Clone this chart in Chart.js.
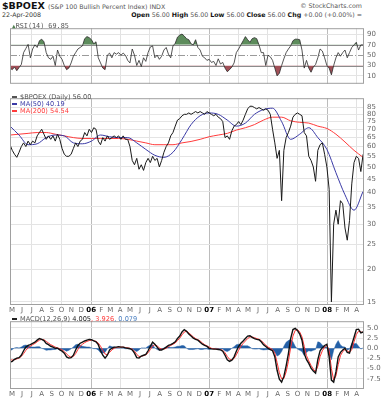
<!DOCTYPE html>
<html><head><meta charset="utf-8">
<script src="https://cdn.jsdelivr.net/npm/chart.js@4/dist/chart.umd.min.js"></script>
<style>
body{margin:0;width:388px;height:400px;background:#fff;position:relative;overflow:hidden;font-family:"DejaVu Sans",sans-serif}
.a{position:absolute;white-space:nowrap;line-height:1}
canvas{position:absolute;left:0}
.d{display:inline-block;width:5px;height:1.5px;vertical-align:middle;margin-right:3px}
</style></head><body>
<div class="a" style="left:2px;top:1px;font-size:9.5px;font-weight:bold;color:#111">$BPOEX <span style="font-weight:normal;font-size:6.3px;color:#555">(S&amp;P 100 Bullish Percent Index) INDX</span></div>
<div class="a" style="right:26px;top:3px;font-size:6.3px;color:#555">© StockCharts.com</div>
<div class="a" style="left:2px;top:12px;font-size:6.3px;color:#333">22-Apr-2008</div>
<div class="a" style="right:26px;top:12px;font-size:6.3px;color:#555"><b style="color:#111">Open</b> 56.00 <b style="color:#111">High</b> 56.00 <b style="color:#111">Low</b> 56.00 <b style="color:#111">Close</b> 56.00 <b style="color:#111">Chg</b> +0.00 (+0.00%) =</div>

<canvas id="cRsi" width="388" height="70" style="top:21px"></canvas>
<canvas id="cPrice" width="388" height="223" style="top:91px"></canvas>
<canvas id="cMacd" width="388" height="86" style="top:314px"></canvas>

<div class="a" style="left:12px;top:23px;font-size:6.8px;color:#555;font-family:'DejaVu Sans Mono',monospace"><span style="color:#4f7f4f;font-size:6px">&#9650;</span>RSI(14) 69.85</div>
<div class="a" style="left:12px;top:94px;font-size:6.6px;color:#555"><span class="d" style="background:#555"></span>$BPOEX (Daily) 56.00</div>
<div class="a" style="left:12px;top:101px;font-size:6.6px;color:#3a3aa6"><span class="d" style="background:#3a3aa6"></span>MA(50) 40.19</div>
<div class="a" style="left:12px;top:108px;font-size:6.6px;color:#ff3b3b"><span class="d" style="background:#ff3b3b"></span>MA(200) 54.54</div>
<div class="a" style="left:12px;top:316px;font-size:6.6px;color:#555"><span class="d" style="background:#222"></span>MACD(12,26,9) <span style="color:#222">4.005</span><span style="color:#ff3b3b">, 3.926</span><span style="color:#4a7fc0">, 0.079</span></div>

<script>
// ---- data (weekly samples starting 25-Apr-2005) ----
const startDate = [2005, 3, 25];
const monthLabels = ['M','J','J','A','S','O','N','D','06','F','M','A','M','J','J','A','S','O','N','D','07','F','M','A','M','J','J','A','S','O','N','D','08','F','M','A'];
const priceTicks = [15,20,25,30,35,40,45,50,55,60,65,70,75,80,85];
const rsiTicks = [10,30,50,70,90];
const rsiBands = [30,70];
const rsiMid = [50];
const macdTicks = [-7.5,-5,-2.5,0,2.5,5];

const bpoex = [61,58,56,54.5,57,60,62,60,63,61,
63,62,66,68,70,67,64,66,64,66,
63,67,64,59,56,55,55,56,59,62,
60,63,64,68,66,70,68,71,70,63,
61,65,63,66,64,65,66,65,66,64,
66,64,64,60,53,51,54,49,51,48.5,
52,54,52,55,53,54,50,53,57,60,
62,66,68,72,76,77,79,80,80,81,
80,81,82,81,82,81,80,82,81,80,
79,80,78,77,75,65,66,64,69,72,
73,75,73,76,80,84,86,86,85,84,
85,84,83,84,83,80,70,62,54,58,
37,58,65,68,72,78,80,81,80,79,
68,66,55,53,50,44,58,61,62,56,
50,41,15,30,34,30,37,36,29,26,
31,43,52,55,54,48,56];

const maWeeks = [0,4,8,12,16,20,24,28,32,36,40,44,48,52,56,60,64,68,72,76,80,84,88,92,96,100,104,108,112,116,120,124,128,132,136,140,144,148,152,156];
const ma50 = [72,66.5,61,61.5,65,66.5,66,62,61.5,63,
66.5,65.5,65,65,62,58.5,55.5,54.5,57,64,
73,79,81,80,76,72,74,80,83.5,84.5,
75,64,67,71,65,58.5,47.5,39,34,40.2];
const ma200 = [66.5,67,67.5,68,68,67,66,65,64.5,64.5,
64.5,64.5,64.5,64,63,62,61,61,61,62,
62.8,64,65.5,66.5,67.5,69.5,71,73,76,78,
78,75.5,74.5,74,72,70.5,67,62.5,58,54.5];

const rsi = [25,22,27,20,26,32,55,63,71,45,
62,70,65,78,81,76,55,45,42,48,
30,60,48,42,30,22,25,35,48,55,
62,65,68,82,86,84,80,72,76,45,
35,25,22,50,54,45,55,52,55,50,
54,50,40,35,62,50,30,40,28,45,
38,55,66,68,45,50,42,48,60,65,
52,45,68,73,85,89,91,87,82,80,
72,70,80,65,60,48,45,40,42,36,
38,30,43,33,36,25,18,22,27,35,
55,62,70,78,86,80,75,82,84,82,
70,55,55,30,50,47,40,25,10,15,
30,43,55,62,68,78,81,81,80,60,
25,40,25,17,27,32,45,62,58,45,
30,25,12,30,45,55,48,55,60,45,
55,65,70,75,60,70,70];

const macd = [-3.4,-3.2,-2.7,-2.4,-2.3,-1.7,-0.6,0.3,0.7,0.9,
1.2,1.5,2.0,2.4,2.2,1.9,1.2,0.9,0.5,0.3,
0,0,-0.4,-0.7,-1.2,-2.1,-2.4,-2.3,-1.7,-0.4,
0.7,1.25,1.5,1.8,2.0,2.2,2.1,1.8,1.6,0.9,
-0.6,-1.7,-2.4,-1.7,-0.4,0,0.3,0.3,0.4,0.3,
0.3,0.1,0,-0.1,-0.4,-1.2,-2.3,-2.4,-1.9,-1.7,
-1.5,-0.6,0.5,1.5,1.0,0.3,-0.4,-0.4,-0.1,0.3,
0.7,0.9,1.2,1.6,2.4,3.0,4.0,4.6,4.2,3.5,
3.0,2.5,2.2,2.0,1.5,1.0,0.7,0.45,0,-0.15,
-0.2,-0.2,-0.3,-0.4,-0.7,-1.7,-2.8,-3.2,-2.9,-2.1,
-0.7,0.5,1.25,1.8,2.4,3.0,3.1,2.7,2.4,2.2,
2.1,1.6,0.9,0.45,0,-0.3,-0.6,-2.1,-5.4,-7.6,
-8.3,-6.9,-4.3,-1.3,2.4,4.6,4.9,4.4,3.5,2.0,
-1.3,-2.8,-3.7,-4.9,-5.6,-6.1,-2.8,-0.6,0.15,0.7,
1.0,-2.1,-7.8,-8.3,-5.8,-2.1,-1.0,-0.4,0,-1.0,
-1.2,0.9,2.7,4.6,4.7,3.8,4.0];

const signal = [-2.8,-2.9,-2.8,-2.6,-2.4,-2.0,-1.3,-0.5,0.1,0.5,
0.9,1.2,1.6,2.0,2.2,2.1,1.7,1.3,0.9,0.6,
0.3,0.1,-0.1,-0.4,-0.8,-1.4,-1.9,-2.2,-2.0,-1.3,
-0.3,0.5,1.0,1.4,1.7,1.9,2.0,1.9,1.7,1.3,
0.5,-0.5,-1.4,-1.6,-1.0,-0.4,0.0,0.2,0.3,0.3,
0.3,0.2,0.1,0.0,-0.2,-0.7,-1.5,-2.0,-2.0,-1.8,
-1.6,-1.1,-0.3,0.6,0.9,0.6,0.1,-0.2,-0.2,0.0,
0.4,0.7,1.0,1.3,1.9,2.5,3.3,4.0,4.2,3.8,
3.3,2.8,2.4,2.1,1.8,1.3,0.9,0.6,0.3,0.0,
-0.1,-0.2,-0.2,-0.3,-0.5,-1.1,-2.0,-2.7,-2.9,-2.5,
-1.6,-0.5,0.5,1.2,1.8,2.4,2.8,2.8,2.6,2.4,
2.2,1.9,1.3,0.8,0.3,0.0,-0.3,-1.2,-3.5,-6.0,
-7.5,-7.4,-5.8,-3.2,0.2,3.0,4.4,4.6,4.0,2.8,
0.5,-1.8,-3.1,-4.2,-5.1,-5.8,-4.4,-2.0,-0.6,0.3,
0.8,-0.6,-5.0,-7.8,-6.8,-4.0,-1.8,-0.8,-0.3,-0.6,
-1.0,-0.3,1.6,3.4,4.2,4.0,3.9];

const hist = [-0.6,-0.3,0.1,0.2,0.1,0.3,0.7,0.8,0.6,0.4,
0.3,0.3,0.4,0.4,0.0,-0.2,-0.5,-0.4,-0.4,-0.3,
-0.3,-0.1,-0.3,-0.3,-0.4,-0.7,-0.5,-0.1,0.3,0.9,
1.0,0.75,0.5,0.4,0.3,0.3,0.1,-0.1,-0.1,-0.4,
-1.1,-1.2,-1.0,-0.1,0.6,0.4,0.3,0.1,0.1,0.0,
0.0,-0.1,-0.1,-0.1,-0.2,-0.5,-0.8,-0.4,0.1,0.1,
0.1,0.5,0.8,0.9,0.1,-0.3,-0.5,-0.2,0.1,0.3,
0.3,0.2,0.2,0.3,0.5,0.5,0.7,0.6,0.0,-0.3,
-0.3,-0.3,-0.2,-0.1,-0.3,-0.3,-0.2,-0.15,-0.3,-0.15,
-0.1,0.0,-0.1,-0.1,-0.2,-0.6,-0.8,-0.5,0.0,0.4,
0.9,1.0,0.75,0.6,0.6,0.6,0.3,-0.1,-0.2,-0.2,
-0.1,-0.3,-0.4,-0.35,-0.3,-0.3,-0.3,-0.9,-1.9,-1.6,
-0.8,0.5,1.5,1.9,2.2,1.6,0.5,-0.2,-0.5,-0.8,
-1.8,-1.0,-0.6,-0.7,-0.5,-0.3,1.6,1.4,0.75,0.4,
0.2,-1.5,-2.8,-0.5,1.0,1.9,0.8,0.4,0.3,-0.4,
-0.2,1.2,1.1,1.2,0.5,-0.2,0.1];

// ---- helpers ----
const WEEK = 7*86400000;
const t0 = Date.UTC(startDate[0], startDate[1], startDate[2]);
const monthPos = monthLabels.map((_, i) => (Date.UTC(2005, 4 + i, 1) - t0) / WEEK);
const monthNum = i => (4 + i) % 12;
const isYear = i => monthLabels[i] && monthLabels[i].length > 1;
const pts = arr => arr.map((v, i) => ({x: i, y: v}));
const ptsX = (xs, arr) => arr.map((v, i) => ({x: xs[i], y: v}));
const FONT = 'DejaVu Sans';

function xScale(show, h) {
  return {
    type: 'linear', min: 0, max: 156.4, offset: false,
    afterBuildTicks: s => { s.ticks = monthPos.map(v => ({value: v})); },
    afterFit: s => { s.height = h; },
    ticks: {
      display: show, autoSkip: false, maxRotation: 0, minRotation: 0, padding: 1,
      callback: (v, i) => monthLabels[i],
      color: c => isYear(c.index) ? '#000' : '#666',
      font: c => ({family: FONT, size: 7, weight: isYear(c.index) ? 'bold' : 'normal'})
    },
    grid: {
      drawTicks: false,
      color: c => { const m = monthNum(c.index); return m === 0 ? '#bcbcbc' : (m % 3 === 0 ? '#e2e2e2' : 'rgba(0,0,0,0)'); }
    },
    border: {display: false}
  };
}
function yScale(type, min, max, ticks, fmt, gridColor) {
  return {
    type, position: 'right', min, max,
    afterBuildTicks: s => { s.ticks = ticks.map(v => ({value: v})); },
    afterFit: s => { s.width = 24; },
    ticks: {autoSkip: false, padding: 3, color: '#666', font: {family: FONT, size: 7}, callback: fmt},
    grid: {drawTicks: false, color: gridColor || '#e4e4e4'},
    border: {display: false}
  };
}
const frame = {
  id: 'frame',
  afterDraw(c) {
    const a = c.chartArea, g = c.ctx;
    g.save(); g.strokeStyle = '#a0a0a0'; g.lineWidth = 1;
    g.strokeRect(a.left + 0.5, a.top + 0.5, a.right - a.left - 1, a.bottom - a.top - 1);
    g.restore();
  }
};
const rsiLines = {
  id: 'rsiLines',
  beforeDatasetsDraw(c) {
    const y = c.scales.y, a = c.chartArea, g = c.ctx;
    g.save(); g.lineWidth = 1;
    g.strokeStyle = '#8c8c8c';
    rsiBands.forEach(v => { const p = Math.round(y.getPixelForValue(v)) + 0.5; g.beginPath(); g.moveTo(a.left, p); g.lineTo(a.right, p); g.stroke(); });
    g.strokeStyle = '#9a9a9a'; g.setLineDash([7, 2, 1, 2]);
    rsiMid.forEach(v => { const p = Math.round(y.getPixelForValue(v)) + 0.5; g.beginPath(); g.moveTo(a.left, p); g.lineTo(a.right, p); g.stroke(); });
    g.restore();
  }
};
function baseOpts(scales) {
  return {
    responsive: false, animation: false, devicePixelRatio: 1,
    layout: {padding: {left: 10, right: 0, top: 0, bottom: 0}},
    plugins: {legend: {display: false}, tooltip: {enabled: false}},
    elements: {point: {radius: 0}, line: {tension: 0}},
    scales
  };
}

// ---- RSI panel ----
new Chart(document.getElementById('cRsi'), {
  type: 'line',
  data: {datasets: [
    {data: pts(rsi), borderColor: '#2a2a2a', borderWidth: 0.8,
     fill: {target: {value: 70}, above: '#5d8c5c', below: 'rgba(0,0,0,0)'}},
    {data: pts(rsi), borderColor: 'rgba(0,0,0,0)', borderWidth: 0,
     fill: {target: {value: 30}, above: 'rgba(0,0,0,0)', below: '#a25058'}}
  ]},
  options: baseOpts({
    x: xScale(false, 0),
    y: yScale('linear', -5.4, 102.3, rsiTicks, v => String(v),
      c => (c.tick && (c.tick.value === 50 || c.tick.value === 30 || c.tick.value === 70)) ? 'rgba(0,0,0,0)' : '#e4e4e4')
  }),
  plugins: [rsiLines, frame]
});

// ---- Price panel ----
new Chart(document.getElementById('cPrice'), {
  type: 'line',
  data: {datasets: [
    {data: pts(bpoex), borderColor: '#1a1a1a', borderWidth: 1, order: 1},
    {data: ptsX(maWeeks, ma50), borderColor: '#3a3aa6', borderWidth: 1, cubicInterpolationMode: 'monotone', order: 2},
    {data: ptsX(maWeeks, ma200), borderColor: '#ff3b3b', borderWidth: 1, cubicInterpolationMode: 'monotone', order: 3}
  ]},
  options: baseOpts({
    x: xScale(true, 9),
    y: yScale('logarithmic', 14.58, 92.4, priceTicks, v => String(v))
  }),
  plugins: [frame]
});

// ---- MACD panel ----
new Chart(document.getElementById('cMacd'), {
  type: 'line',
  data: {datasets: [
    {data: pts(macd), borderColor: '#111', borderWidth: 1.4, order: 1},
    {data: pts(signal), borderColor: '#ff3030', borderWidth: 1, order: 2},
    {data: pts(hist), borderColor: '#2460a7', backgroundColor: '#2460a7', borderWidth: 0.5, fill: 'origin', order: 3}
  ]},
  options: baseOpts({
    x: xScale(true, 11),
    y: yScale('linear', -10, 6.66, macdTicks, v => v.toFixed(1))
  }),
  plugins: [frame]
});
</script>
</body></html>
